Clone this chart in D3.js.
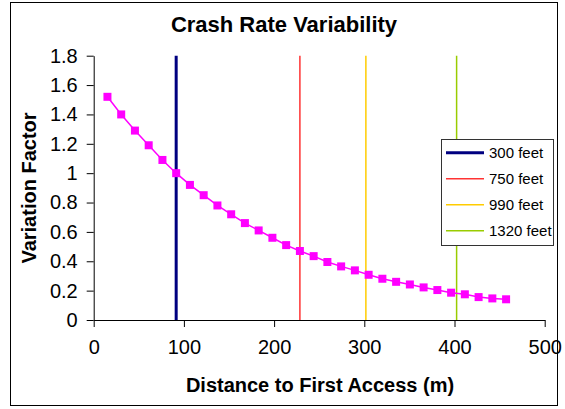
<!DOCTYPE html>
<html><head><meta charset="utf-8">
<script src="https://cdn.jsdelivr.net/npm/d3@7"></script>
<style>body{margin:0;background:#fff}svg{display:block;font-family:"Liberation Sans",Arial,sans-serif}</style>
</head><body><svg id="c" width="565" height="409"></svg>
<script>
const distances = [15.24,30.48,45.72,60.96,76.2,91.44,106.68,121.92,137.16,152.4,167.64,182.88,198.12,213.36,228.6,243.84,259.08,274.32,289.56,304.8,320.04,335.28,350.52,365.76,381,396.24,411.48,426.72,441.96,457.2];
const factors = [1.52,1.40,1.29,1.19,1.09,1.00,0.92,0.85,0.78,0.72,0.66,0.61,0.56,0.51,0.47,0.435,0.395,0.365,0.338,0.308,0.281,0.26,0.242,0.222,0.204,0.186,0.175,0.156,0.147,0.141];
const refNames = ["300 feet","750 feet","990 feet","1320 feet"];
const refValues = [91.44,228.6,301.75,402.34];
const refColors = ["#000080","#FF3333","#FFCC00","#99CC00"];
const refWidths = [3,1.5,1.5,1.5];
const xTicks = [0,100,200,300,400,500];
const yTicks = [0,0.2,0.4,0.6,0.8,1,1.2,1.4,1.6,1.8];

const svg = d3.select("#c");
svg.append("rect").attr("x",10.5).attr("y",2.5).attr("width",547).attr("height",403)
  .attr("fill","#fff").attr("stroke","#000").attr("stroke-width",1);

const x = d3.scaleLinear().domain([0,500]).range([93.7,544.7]);
const y = d3.scaleLinear().domain([0,1.8]).range([320,55.7]);

// reference lines
svg.append("g").selectAll("line").data(refValues).join("line")
  .attr("x1",d=>x(d)).attr("x2",d=>x(d)).attr("y1",y(1.8)).attr("y2",y(0))
  .attr("stroke",(d,i)=>refColors[i]).attr("stroke-width",(d,i)=>refWidths[i]);

// axes
const xa = svg.append("g").attr("transform",`translate(0,${y(0)})`)
  .call(d3.axisBottom(x).tickValues(xTicks).tickSize(7).tickPadding(13).tickSizeOuter(0));
const ya = svg.append("g").attr("transform",`translate(${x(0)},0)`)
  .call(d3.axisLeft(y).tickValues(yTicks).tickSize(7).tickPadding(9).tickSizeOuter(0).tickFormat(d=>d3.format("")(+d.toFixed(1))));
[xa,ya].forEach(a=>{
  a.selectAll("text").attr("font-size",20).attr("fill","#000").attr("font-family","Liberation Sans, Arial, sans-serif");
  a.selectAll("line,path").attr("stroke","#000");
});

// series
svg.append("path").datum(distances.map((d,i)=>[d,factors[i]]))
  .attr("fill","none").attr("stroke","#FF00FF").attr("stroke-width",1.5)
  .attr("d",d3.line().x(d=>x(d[0])).y(d=>y(d[1])));
svg.append("g").selectAll("rect").data(distances).join("rect")
  .attr("x",d=>x(d)-4).attr("y",(d,i)=>y(factors[i])-4).attr("width",8).attr("height",8)
  .attr("fill","#FF00FF");

// titles
svg.append("text").attr("x",284).attr("y",31.5).attr("text-anchor","middle")
  .attr("font-size",22).attr("font-weight","bold").text("Crash Rate Variability");
svg.append("text").attr("x",320).attr("y",392).attr("text-anchor","middle")
  .attr("font-size",20).attr("font-weight","bold").text("Distance to First Access (m)");
svg.append("text").attr("transform","translate(36,188) rotate(-90)").attr("text-anchor","middle")
  .attr("font-size",20).attr("font-weight","bold").text("Variation Factor");

// legend
const lg = svg.append("g");
lg.append("rect").attr("x",441.5).attr("y",139.5).attr("width",112).attr("height",106)
  .attr("fill","#fff").attr("stroke","#333").attr("stroke-width",1);
const items = lg.selectAll("g").data(refNames).join("g")
  .attr("transform",(d,i)=>`translate(0,${152.7+i*26})`);
items.append("line").attr("x1",446).attr("x2",484).attr("y1",0).attr("y2",0)
  .attr("stroke",(d,i)=>refColors[i]).attr("stroke-width",(d,i)=>refWidths[i]);
items.append("text").attr("x",489).attr("y",5.5).attr("font-size",15).text(d=>d);
</script></body></html>
